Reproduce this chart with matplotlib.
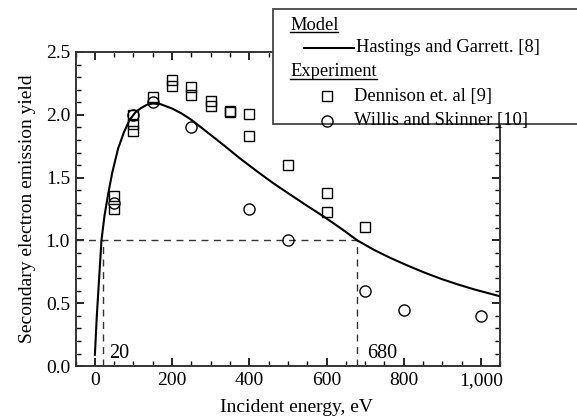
import matplotlib
matplotlib.use("Agg")
import matplotlib.pyplot as plt
from matplotlib.ticker import MultipleLocator, FuncFormatter
from matplotlib.patches import Rectangle
from matplotlib.lines import Line2D

plt.rcParams['font.family'] = ['Liberation Serif', 'DejaVu Serif']
plt.rcParams['font.size'] = 14

# Hastings and Garrett model curve
model_e = [0, 5, 10, 17, 25, 35, 45, 60, 75, 90, 105, 120, 135, 150, 170,
           200, 225, 250, 275, 300, 333, 375, 420, 460, 506, 550, 593, 640,
           680, 723, 766, 810, 853, 896, 940, 983, 1050]
model_y = [0.09, 0.40, 0.65, 1.00, 1.20, 1.38, 1.54, 1.73, 1.86, 1.96, 2.02,
           2.055, 2.08, 2.09, 2.085, 2.05, 2.01, 1.96, 1.90, 1.84, 1.76, 1.655,
           1.55, 1.46, 1.365, 1.275, 1.19, 1.09, 1.00, 0.925, 0.86, 0.80,
           0.745, 0.695, 0.65, 0.61, 0.555]

# Dennison et. al
dennison_e = [50, 50, 100, 100, 100, 150, 200, 200, 250, 250, 300, 300,
              350, 350, 400, 400, 500, 600, 600, 700]
dennison_y = [1.35, 1.25, 2.00, 1.93, 1.87, 2.14, 2.28, 2.23, 2.22, 2.16,
              2.11, 2.07, 2.03, 2.02, 2.01, 1.83, 1.60, 1.38, 1.23, 1.11]

# Willis and Skinner
willis_e = [50, 100, 150, 250, 400, 500, 700, 800, 1000]
willis_y = [1.30, 2.00, 2.10, 1.90, 1.25, 1.00, 0.60, 0.45, 0.40]

crossings = [20, 680]

fig = plt.figure(figsize=(5.77, 4.16), dpi=100)
ax = fig.add_axes([0.131, 0.120, 0.736, 0.755])

ax.plot(model_e, model_y, color='black', lw=1.5, zorder=3)
ax.plot(dennison_e, dennison_y, linestyle='none', marker='s', ms=6.5,
        mfc='none', mec='black', mew=1.0, zorder=4)
ax.plot(willis_e, willis_y, linestyle='none', marker='o', ms=8,
        mfc='none', mec='black', mew=1.0, zorder=4)

dash = dict(color='#333333', lw=1.0, linestyle=(0, (5, 4)), zorder=2)
ax.plot([-50, crossings[1]], [1.0, 1.0], **dash)
for c in crossings:
    ax.plot([c, c], [0, 1.0], **dash)
ax.text(36, 0.1, "20", ha='left', va='center', fontsize=14.5)
ax.text(704, 0.1, "680", ha='left', va='center', fontsize=14.5)

ax.set_xlim(-50, 1050)
ax.set_ylim(0, 2.5)
ax.xaxis.set_major_locator(MultipleLocator(200))
ax.xaxis.set_minor_locator(MultipleLocator(50))
ax.yaxis.set_major_locator(MultipleLocator(0.5))
ax.yaxis.set_minor_locator(MultipleLocator(0.1))
ax.xaxis.set_major_formatter(FuncFormatter(lambda v, p: f"{int(v):,}"))
ax.yaxis.set_major_formatter(FuncFormatter(lambda v, p: f"{v:.1f}"))
ax.tick_params(which='both', direction='in', top=True, right=True)
ax.tick_params(which='major', length=6, width=1.2, labelsize=14, pad=4)
ax.tick_params(which='minor', length=3.5, width=1.0)
for s in ax.spines.values():
    s.set_linewidth(1.4)
    s.set_color('#333333')

ax.set_xlabel("Incident energy, eV", fontsize=14, labelpad=3)
ax.xaxis.set_label_coords(0.52, -0.105)
ax.set_ylabel("Secondary electron emission yield", fontsize=14, labelpad=7)

# legend box drawn by hand
W, H = 577, 416
def fx(px):
    return px / W
def fy(py):
    return 1 - py / H

box = Rectangle((fx(273), fy(124)), fx(340), 115 / H, transform=fig.transFigure,
                facecolor='white', edgecolor='#444444', lw=1.3, zorder=10)
fig.add_artist(box)

leg_fs = 13.3
heads = []
heads.append(fig.text(fx(290), fy(25), "Model", ha='left', va='center',
                      fontsize=leg_fs, zorder=11))
fig.add_artist(Line2D([fx(304), fx(354)], [fy(48), fy(48)], color='black', lw=1.5,
                      transform=fig.transFigure, zorder=11))
fig.text(fx(356), fy(47), "Hastings and Garrett. [8]", ha='left', va='center',
         fontsize=leg_fs, zorder=11)
heads.append(fig.text(fx(290), fy(72), "Experiment", ha='left', va='center',
                      fontsize=leg_fs, zorder=11))
fig.add_artist(Line2D([fx(327)], [fy(96)], marker='s', ms=6.5, mfc='none', mec='black',
                      mew=1.0, transform=fig.transFigure, zorder=11))
fig.text(fx(354), fy(96), "Dennison et. al [9]", ha='left', va='center',
         fontsize=leg_fs, zorder=11)
fig.add_artist(Line2D([fx(327)], [fy(121)], marker='o', ms=8, mfc='none', mec='black',
                      mew=1.0, transform=fig.transFigure, zorder=11))
fig.text(fx(354), fy(121), "Willis and Skinner [10]", ha='left', va='center',
         fontsize=leg_fs, zorder=11)

fig.canvas.draw()
r = fig.canvas.get_renderer()
for t in heads:
    bb = t.get_window_extent(r).transformed(fig.transFigure.inverted())
    fig.add_artist(Line2D([bb.x0, bb.x1], [bb.y0 + 0.004, bb.y0 + 0.004], color='black',
                          lw=1.0, transform=fig.transFigure, zorder=11))

fig.savefig("out.png", dpi=100)
